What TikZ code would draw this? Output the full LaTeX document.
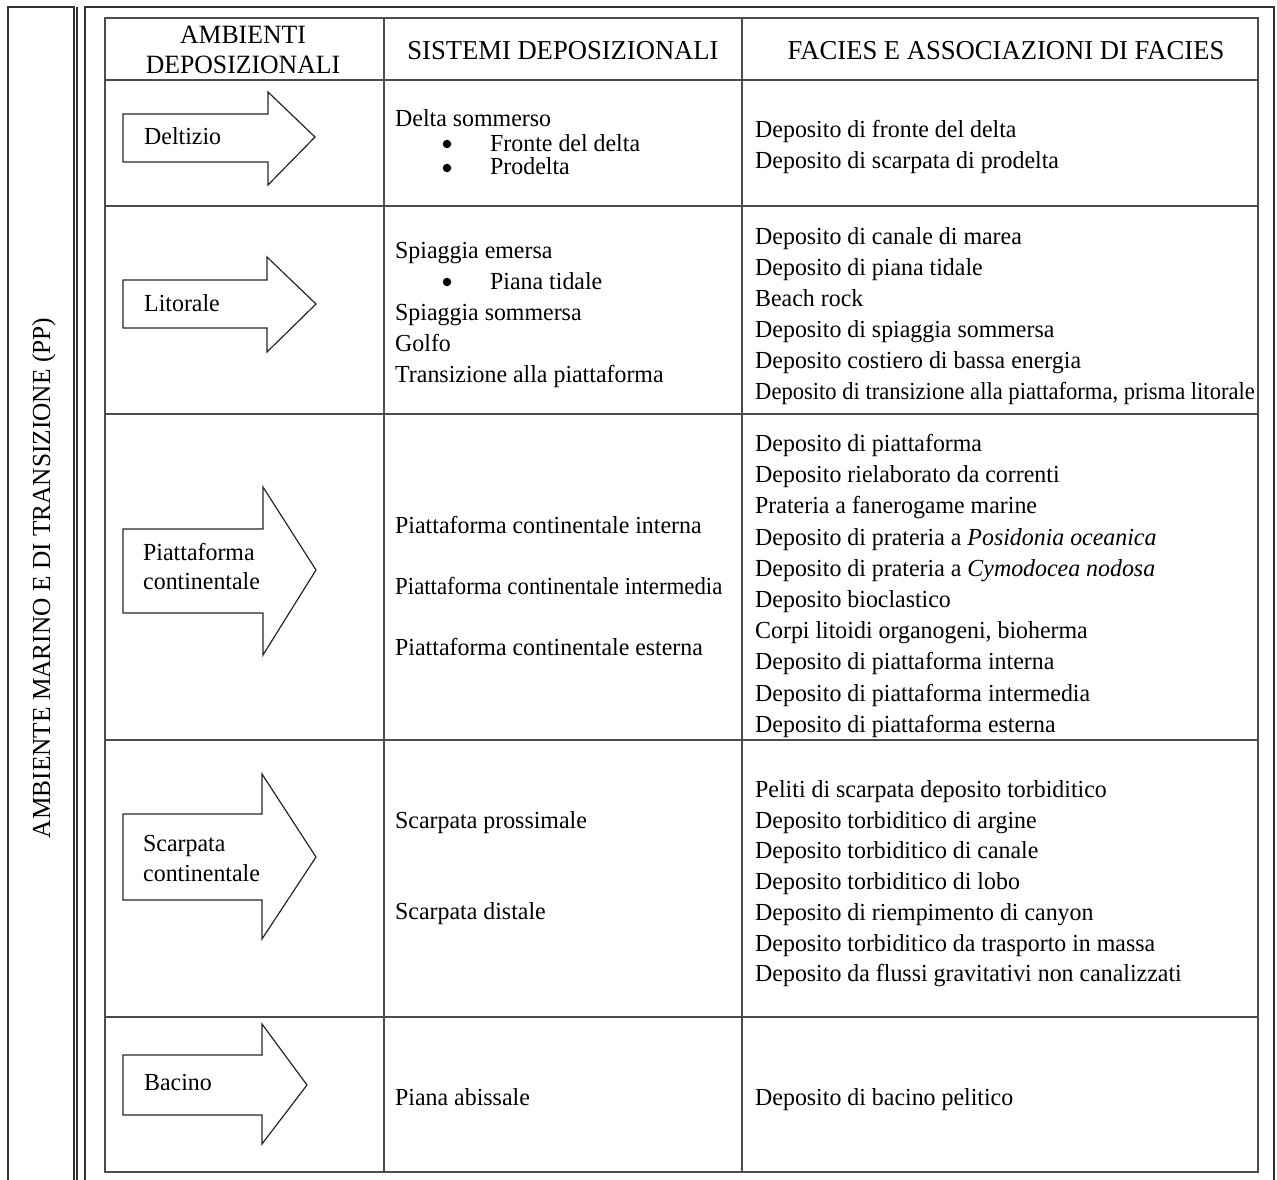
\documentclass[tikz,border=0pt]{standalone}
\usepackage{fontspec}
\setmainfont{Liberation Serif}[FakeStretch=0.975]
\begin{document}
\begin{tikzpicture}[x=1pt,y=-1pt,
  frame/.style={line width=1.8pt,draw=black!80},
  grid/.style={line width=1.4pt,draw=black!70},
  arr/.style={line width=1.2pt,draw=black!85,fill=white,line join=miter},
  txt/.style={anchor=base west,inner sep=0pt,font=\fontsize{24.5}{31}\selectfont},
  bul/.style={circle,fill=black,inner sep=0pt,minimum size=8.5pt},
  hdr/.style={anchor=base,inner sep=0pt,font=\fontsize{27.3}{31}\selectfont}]
\useasboundingbox (0,0) rectangle (1277,1180);
% outer frames (open at bottom)
\draw[frame] (8,1180) -- (8,7) -- (74,7) -- (74,1180);
\draw[frame] (77,7) -- (77,1180);
\draw[frame] (85,1180) -- (85,7) -- (1274,7) -- (1274,1180);
\node[anchor=base,inner sep=0pt,rotate=90,font=\fontsize{26}{31}\selectfont] (side) at (50,578) {AMBIENTE MARINO E DI TRANSIZIONE (PP)};
% table grid
\draw[grid] (105,18) rectangle (1258,1172);
\draw[grid] (384,18) -- (384,1172);
\draw[grid] (742,18) -- (742,1172);
\foreach \yy in {80,206,414,740,1017} \draw[grid] (105,\yy) -- (1258,\yy);
% header
\node[hdr,font=\fontsize{26.4}{31}\selectfont] (h1a) at (243,44) {AMBIENTI};
\node[hdr,font=\fontsize{26.4}{31}\selectfont] (h1b) at (243,74) {DEPOSIZIONALI};
\node[hdr] (h2) at (563,60) {SISTEMI DEPOSIZIONALI};
\node[hdr] (h3) at (1006,60) {FACIES E ASSOCIAZIONI DI FACIES};
% arrows
\draw[arr] (123,114) -- (268,114) -- (268,92) -- (315,137) -- (268,185) -- (268,162) -- (123,162) -- cycle;
\draw[arr] (123,280) -- (267,280) -- (267,257) -- (316,304) -- (267,352) -- (267,328) -- (123,328) -- cycle;
\draw[arr] (123,529) -- (263,529) -- (263,487) -- (316,570) -- (263,655) -- (263,613) -- (123,613) -- cycle;
\draw[arr] (123,814) -- (262,814) -- (262,774) -- (316,857) -- (262,939) -- (262,900) -- (123,900) -- cycle;
\draw[arr] (123,1055) -- (262,1055) -- (262,1024) -- (307,1085) -- (262,1144) -- (262,1115) -- (123,1115) -- cycle;
\node[txt] (a1) at (144,145) {Deltizio};
\node[txt] (a2) at (144,311) {Litorale};
\node[txt] (a3a) at (143,560) {Piattaforma};
\node[txt] (a3b) at (143,589) {continentale};
\node[txt] (a4a) at (143,851) {Scarpata};
\node[txt] (a4b) at (143,881) {continentale};
\node[txt] (a5) at (144,1090) {Bacino};
% column 2
\node[txt] (s1) at (395,127) {Delta sommerso};
\node[bul] (s1b1) at (447,144) {};
\node[txt] (s1t1) at (490,151) {Fronte del delta};
\node[bul] (s1b2) at (447,168) {};
\node[txt] (s1t2) at (490,175) {Prodelta};
\node[txt] (s2a) at (395,258) {Spiaggia emersa};
\node[bul] (s2b1) at (447,282) {};
\node[txt] (s2t1) at (490,289) {Piana tidale};
\node[txt] (s2c) at (395,320) {Spiaggia sommersa};
\node[txt] (s2d) at (395,351) {Golfo};
\node[txt] (s2e) at (395,382) {Transizione alla piattaforma};
\node[txt] (s3a) at (395,533) {Piattaforma continentale interna};
\node[txt] (s3b) at (395,594) {\scalebox{0.956}[1]{Piattaforma continentale intermedia}};
\node[txt] (s3c) at (395,655) {Piattaforma continentale esterna};
\node[txt] (s4a) at (395,828) {Scarpata prossimale};
\node[txt] (s4b) at (395,919) {Scarpata distale};
\node[txt] (s5) at (395,1105) {Piana abissale};
% column 3
\node[txt] (f1a) at (755,138) {Deposito di fronte del delta};
\node[txt] (f1b) at (755,168) {Deposito di scarpata di prodelta};
\node[txt] (f2a) at (755,244) {Deposito di canale di marea};
\node[txt] (f2b) at (755,275) {Deposito di piana tidale};
\node[txt] (f2c) at (755,306) {Beach rock};
\node[txt] (f2d) at (755,337) {Deposito di spiaggia sommersa};
\node[txt] (f2e) at (755,368) {Deposito costiero di bassa energia};
\node[txt] (f2f) at (755,399) {\scalebox{0.945}[1]{Deposito di transizione alla piattaforma, prisma litorale}};
\node[txt] (f3a) at (755,451) {Deposito di piattaforma};
\node[txt] (f3b) at (755,482) {Deposito rielaborato da correnti};
\node[txt] (f3c) at (755,513) {Prateria a fanerogame marine};
\node[txt] (f3d) at (755,545) {Deposito di prateria a \textit{Posidonia oceanica}};
\node[txt] (f3e) at (755,576) {Deposito di prateria a \textit{Cymodocea nodosa}};
\node[txt] (f3f) at (755,607) {Deposito bioclastico};
\node[txt] (f3g) at (755,638) {Corpi litoidi organogeni, bioherma};
\node[txt] (f3h) at (755,669) {Deposito di piattaforma interna};
\node[txt] (f3i) at (755,701) {Deposito di piattaforma intermedia};
\node[txt] (f3j) at (755,732) {Deposito di piattaforma esterna};
\node[txt] (f4a) at (755,797) {Peliti di scarpata deposito torbiditico};
\node[txt] (f4b) at (755,828) {Deposito torbiditico di argine};
\node[txt] (f4c) at (755,858) {Deposito torbiditico di canale};
\node[txt] (f4d) at (755,889) {Deposito torbiditico di lobo};
\node[txt] (f4e) at (755,920) {Deposito di riempimento di canyon};
\node[txt] (f4f) at (755,951) {Deposito torbiditico da trasporto in massa};
\node[txt] (f4g) at (755,981) {Deposito da flussi gravitativi non canalizzati};
\node[txt] (f5) at (755,1105) {Deposito di bacino pelitico};
\end{tikzpicture}
\end{document}
